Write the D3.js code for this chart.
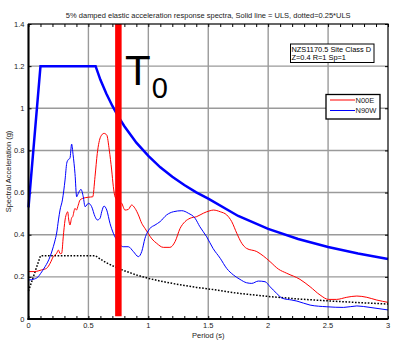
<!DOCTYPE html>
<html><head><meta charset="utf-8">
<script src="https://cdn.jsdelivr.net/npm/d3@7"></script>
<style>html,body{margin:0;padding:0;background:#fff;}svg{display:block;font-family:"Liberation Sans",Arial,sans-serif;}</style>
</head><body>
<svg id="c" width="397" height="343"></svg>
<script>
// ---- data ----
const titleText = "5% damped elastic acceleration response spectra, Solid line = ULS, dotted=0.25*ULS";
const xLabel = "Period (s)";
const yLabel = "Spectral Acceleration (g)";
const xTicks = [0, 0.5, 1, 1.5, 2, 2.5, 3];
const yTicks = [0, 0.2, 0.4, 0.6, 0.8, 1, 1.2, 1.4];
const annotationLines = ["NZS1170.5 Site Class D", "Z=0.4 R=1 Sp=1"];
const seriesNames = ["N00E", "N90W"];
const t0Period = 0.75;

const ulsT  = [0, 0.1, 0.56, 0.6, 0.65, 0.7, 0.75, 0.8, 0.9, 1.0, 1.1, 1.2, 1.3, 1.4, 1.5, 1.75, 2.0, 2.25, 2.5, 2.75, 3.0];
const ulsSa = [0.53, 1.2, 1.2, 1.135, 1.069, 1.011, 0.96, 0.915, 0.837, 0.774, 0.72, 0.675, 0.636, 0.601, 0.571, 0.489, 0.428, 0.38, 0.342, 0.311, 0.285];
const slsSa = [0.1325, 0.3, 0.3, 0.284, 0.267, 0.253, 0.24, 0.229, 0.209, 0.193, 0.18, 0.169, 0.159, 0.15, 0.143, 0.122, 0.107, 0.095, 0.086, 0.078, 0.071];

const n00eT  = [0, 0.05, 0.08, 0.11, 0.152, 0.18, 0.207, 0.235, 0.249, 0.265, 0.277, 0.29, 0.305, 0.319, 0.327, 0.336, 0.346, 0.36, 0.369, 0.388, 0.4, 0.415, 0.43, 0.457, 0.5, 0.536, 0.555, 0.574, 0.602, 0.63, 0.653, 0.674, 0.694, 0.708, 0.722, 0.75, 0.778, 0.805, 0.833, 0.861, 0.889, 0.917, 0.945, 0.972, 1.0, 1.03, 1.07, 1.125, 1.18, 1.223, 1.265, 1.306, 1.348, 1.404, 1.459, 1.515, 1.543, 1.6, 1.654, 1.696, 1.738, 1.78, 1.82, 1.905, 1.96, 2.016, 2.085, 2.155, 2.266, 2.35, 2.433, 2.503, 2.57, 2.656, 2.74, 2.823, 2.906, 3.0];
const n00eSa = [0.225, 0.225, 0.228, 0.233, 0.241, 0.264, 0.296, 0.312, 0.327, 0.31, 0.312, 0.39, 0.47, 0.502, 0.509, 0.47, 0.446, 0.48, 0.486, 0.525, 0.517, 0.54, 0.565, 0.573, 0.578, 0.58, 0.675, 0.786, 0.865, 0.881, 0.873, 0.802, 0.707, 0.628, 0.58, 0.56, 0.549, 0.517, 0.52, 0.541, 0.525, 0.494, 0.454, 0.43, 0.405, 0.38, 0.359, 0.34, 0.34, 0.367, 0.43, 0.462, 0.478, 0.486, 0.502, 0.514, 0.517, 0.509, 0.494, 0.462, 0.407, 0.359, 0.335, 0.32, 0.299, 0.272, 0.237, 0.217, 0.188, 0.153, 0.114, 0.093, 0.093, 0.103, 0.109, 0.103, 0.09, 0.079];

const n90wT  = [0, 0.05, 0.08, 0.1, 0.138, 0.16, 0.18, 0.207, 0.22, 0.235, 0.25, 0.263, 0.283, 0.305, 0.319, 0.33, 0.346, 0.36, 0.372, 0.388, 0.402, 0.416, 0.438, 0.457, 0.472, 0.5, 0.527, 0.555, 0.575, 0.597, 0.611, 0.63, 0.653, 0.68, 0.708, 0.736, 0.76, 0.79, 0.833, 0.875, 0.917, 0.945, 0.972, 1.014, 1.056, 1.098, 1.153, 1.209, 1.279, 1.334, 1.39, 1.43, 1.487, 1.54, 1.6, 1.654, 1.71, 1.765, 1.82, 1.863, 1.918, 1.974, 2.016, 2.07, 2.12, 2.197, 2.24, 2.35, 2.49, 2.63, 2.74, 2.85, 3.0];
const n90wSa = [0.185, 0.19, 0.2, 0.215, 0.248, 0.27, 0.296, 0.343, 0.37, 0.408, 0.47, 0.517, 0.565, 0.66, 0.739, 0.755, 0.763, 0.83, 0.78, 0.69, 0.58, 0.597, 0.615, 0.58, 0.533, 0.549, 0.533, 0.486, 0.47, 0.478, 0.509, 0.536, 0.517, 0.454, 0.407, 0.375, 0.355, 0.343, 0.343, 0.32, 0.296, 0.32, 0.383, 0.43, 0.446, 0.462, 0.494, 0.509, 0.514, 0.502, 0.478, 0.438, 0.39, 0.335, 0.288, 0.24, 0.209, 0.188, 0.172, 0.169, 0.18, 0.177, 0.153, 0.122, 0.098, 0.09, 0.085, 0.066, 0.058, 0.055, 0.062, 0.055, 0.043];

// ---- chart ----
const svg = d3.select("#c");
const L = 28.5, R = 388, T = 24, B = 319;
const x = d3.scaleLinear().domain([0, 3]).range([L, R]);
const y = d3.scaleLinear().domain([0, 1.4]).range([B, T]);
const fmt = d3.format("~g");
const txt = "#222";

// grid
const grid = svg.append("g");
grid.selectAll("line.gx").data(xTicks.filter(d => d > 0 && d < 3)).join("line")
  .attr("x1", d => x(d)).attr("x2", d => x(d)).attr("y1", T).attr("y2", B)
  .attr("stroke", "#9a9a9a").attr("stroke-width", 1.4);
grid.selectAll("line.gy").data(yTicks.filter(d => d > 0 && d < 1.4)).join("line")
  .attr("y1", d => y(d)).attr("y2", d => y(d)).attr("x1", L).attr("x2", R)
  .attr("stroke", "#9a9a9a").attr("stroke-width", 1.4);

// axes (inward ticks)
const minorX = d3.range(0, 31).map(i => i / 10);
svg.append("g").attr("transform", `translate(0,${B})`)
  .call(d3.axisBottom(x).tickValues(minorX).tickSize(-3).tickFormat(""))
  .call(g => g.select(".domain").remove());
svg.append("g").attr("transform", `translate(0,${T})`)
  .call(d3.axisTop(x).tickValues(minorX).tickSize(-3).tickFormat(""))
  .call(g => g.select(".domain").remove());
svg.append("g").attr("transform", `translate(${L},0)`)
  .call(d3.axisLeft(y).tickValues(yTicks).tickSize(-3).tickFormat(""))
  .call(g => g.select(".domain").remove());
svg.append("g").attr("transform", `translate(${R},0)`)
  .call(d3.axisRight(y).tickValues(yTicks).tickSize(-3).tickFormat(""))
  .call(g => g.select(".domain").remove());

// tick labels
svg.append("g").selectAll("text").data(xTicks).join("text")
  .attr("x", d => x(d)).attr("y", B + 9).attr("text-anchor", "middle")
  .attr("font-size", 7.5).attr("fill", txt).text(d => fmt(d));
svg.append("g").selectAll("text").data(yTicks).join("text")
  .attr("x", L - 4).attr("y", d => y(d) + 2.6).attr("text-anchor", "end")
  .attr("font-size", 7.5).attr("fill", txt).text(d => fmt(d));

// lines
const line = (tArr) => d3.line().x((d, i) => x(tArr[i])).y(d => y(d));
const lineSmooth = (tArr) => d3.line().x((d, i) => x(tArr[i])).y(d => y(d)).curve(d3.curveMonotoneX);

svg.append("path").datum(slsSa).attr("d", line(ulsT)).attr("fill", "none")
  .attr("stroke", "#000").attr("stroke-width", 1.5).attr("stroke-dasharray", "1.6,1.6");
svg.append("path").datum(n00eSa).attr("d", lineSmooth(n00eT)).attr("fill", "none")
  .attr("stroke", "#ff0000").attr("stroke-width", 1);
svg.append("path").datum(n90wSa).attr("d", lineSmooth(n90wT)).attr("fill", "none")
  .attr("stroke", "#0000ff").attr("stroke-width", 1);
svg.append("path").datum(ulsSa).attr("d", line(ulsT)).attr("fill", "none")
  .attr("stroke", "#0000ff").attr("stroke-width", 2.5);

// T0 bar
svg.append("line").attr("x1", x(t0Period)).attr("x2", x(t0Period))
  .attr("y1", y(0.013)).attr("y2", y(1.4))
  .attr("stroke", "#ff0000").attr("stroke-width", 6.5);

// frame
svg.append("rect").attr("x", L).attr("y", T).attr("width", R - L).attr("height", B - T)
  .attr("fill", "none").attr("stroke", "#000").attr("stroke-width", 1.2);
svg.append("line").attr("x1", L).attr("x2", L).attr("y1", T).attr("y2", B + 1).attr("stroke", "#000").attr("stroke-width", 2);
svg.append("line").attr("x1", L - 1).attr("x2", R).attr("y1", B).attr("y2", B).attr("stroke", "#000").attr("stroke-width", 2);

// T0 label
const t0 = svg.append("text").attr("x", 125).attr("y", 85).attr("fill", "#000")
  .attr("font-size", 42);
t0.append("tspan").text("T");
t0.append("tspan").attr("font-size", 29).attr("dx", 1).attr("dy", 13).text("0");

// title & axis labels
svg.append("text").attr("x", (L + R) / 2).attr("y", 17.5).attr("text-anchor", "middle")
  .attr("font-size", 7.5).attr("fill", txt).text(titleText);
svg.append("text").attr("x", (L + R) / 2).attr("y", 338).attr("text-anchor", "middle")
  .attr("font-size", 7.5).attr("fill", txt).text(xLabel);
svg.append("text").attr("transform", `translate(10.5,${(T + B) / 2}) rotate(-90)`)
  .attr("text-anchor", "middle").attr("font-size", 7.5).attr("fill", txt).text(yLabel);

// annotation box
svg.append("rect").attr("x", 290.5).attr("y", 44).attr("width", 83.5).attr("height", 18.5)
  .attr("fill", "#fff").attr("stroke", "#000").attr("stroke-width", 1);
svg.append("g").selectAll("text").data(annotationLines).join("text")
  .attr("x", 291.5).attr("y", (d, i) => 52 + i * 8).attr("font-size", 7.4).attr("fill", "#000").text(d => d);

// legend
const legColors = ["#ff0000", "#0000ff"];
svg.append("rect").attr("x", 326).attr("y", 94.5).attr("width", 54).attr("height", 24.5)
  .attr("fill", "#fff").attr("stroke", "#000").attr("stroke-width", 1.3);
const leg = svg.append("g").selectAll("g").data(seriesNames).join("g")
  .attr("transform", (d, i) => `translate(0,${100 + i * 10.5})`);
leg.append("line").attr("x1", 330).attr("x2", 355).attr("y1", 0).attr("y2", 0)
  .attr("stroke", (d, i) => legColors[i]).attr("stroke-width", 1);
leg.append("text").attr("x", 355.5).attr("y", 2.7).attr("font-size", 7.5).attr("fill", txt).text(d => d);
</script>
</body></html>
